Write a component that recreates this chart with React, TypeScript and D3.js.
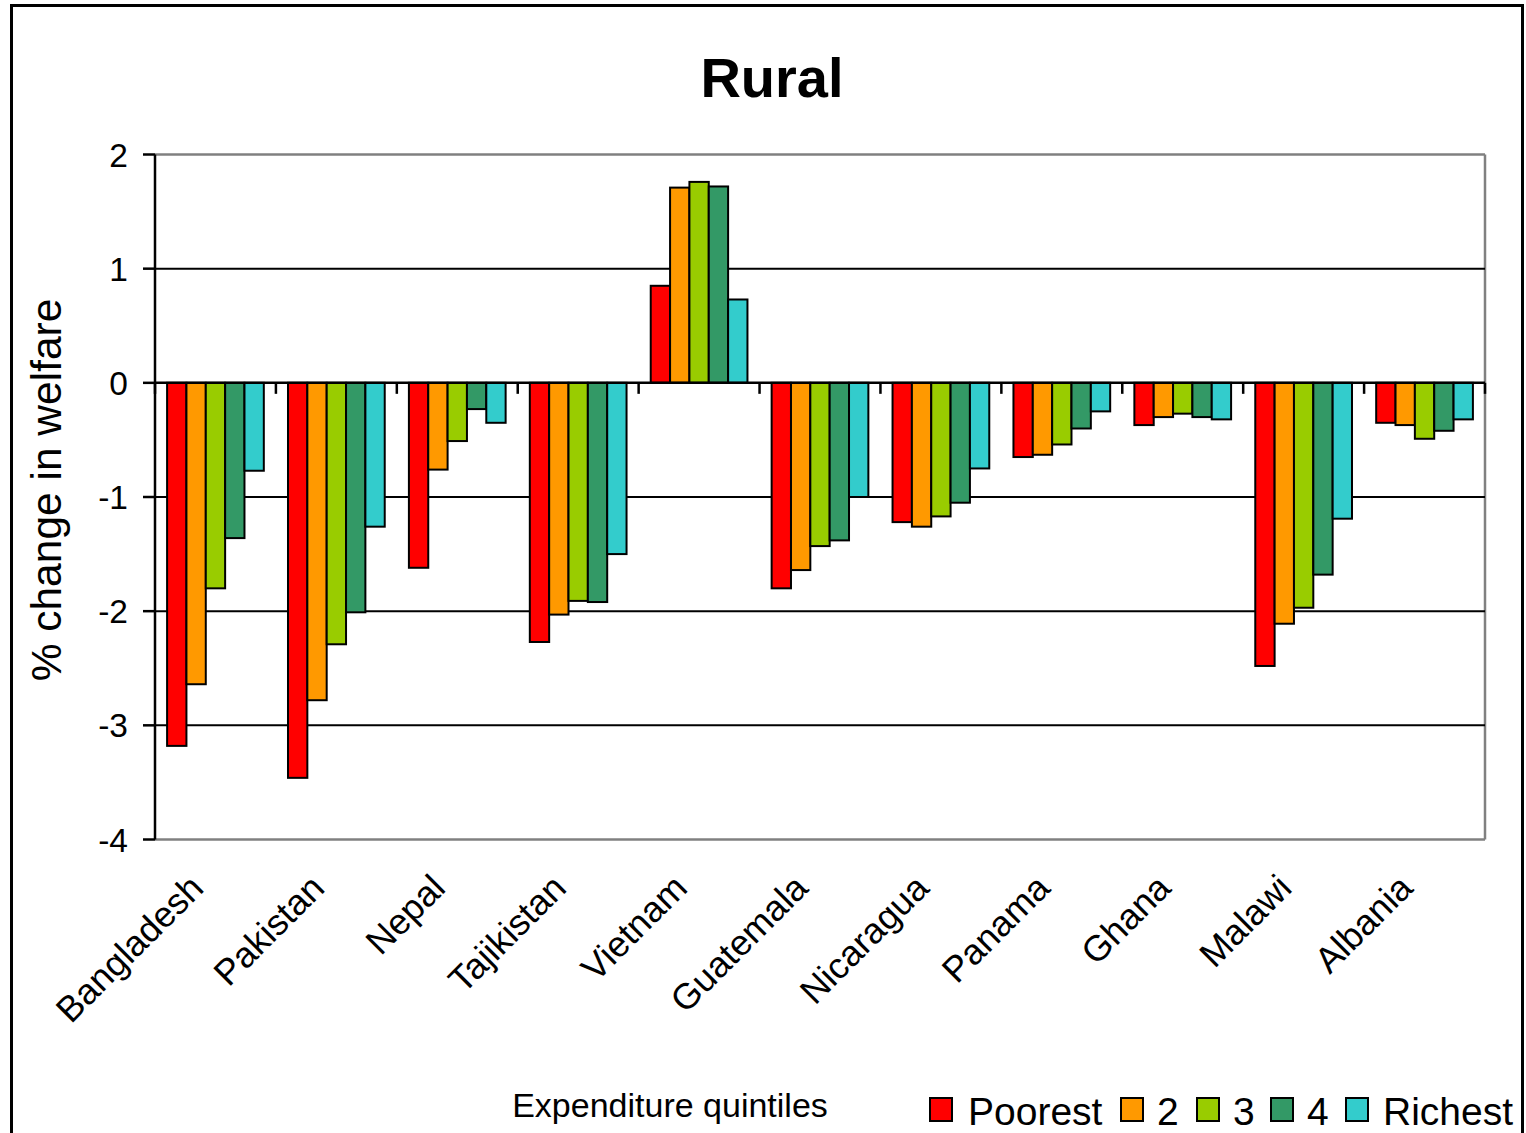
import React from "react";
import * as d3 from "d3";

const countries = ["Bangladesh", "Pakistan", "Nepal", "Tajikistan", "Vietnam", "Guatemala", "Nicaragua", "Panama", "Ghana", "Malawi", "Albania"];
const seriesNames = ["Poorest", "2", "3", "4", "Richest"];
const seriesColors = ["#FF0000", "#FF9900", "#99CC00", "#339966", "#33CCCC"];

const poorest = [-3.18, -3.46, -1.62, -2.27, 0.85, -1.80, -1.22, -0.65, -0.37, -2.48, -0.35];
const q2 = [-2.64, -2.78, -0.76, -2.03, 1.71, -1.64, -1.26, -0.63, -0.30, -2.11, -0.37];
const q3 = [-1.80, -2.29, -0.51, -1.91, 1.76, -1.43, -1.17, -0.54, -0.27, -1.97, -0.49];
const q4 = [-1.36, -2.01, -0.23, -1.92, 1.72, -1.38, -1.05, -0.40, -0.30, -1.68, -0.42];
const richest = [-0.77, -1.26, -0.35, -1.50, 0.73, -1.00, -0.75, -0.25, -0.32, -1.19, -0.32];

const yTicks = [2, 1, 0, -1, -2, -3, -4];

const W = 1526;
const H = 1133;
const FONT = "Arial, 'Liberation Sans', Helvetica, sans-serif";

export default function App() {
  const seriesValues = [poorest, q2, q3, q4, richest];
  const left = 155;
  const right = 1485;
  const top = 154.5;
  const bottom = 839.5;

  const x0 = d3.scaleBand<string>().domain(countries).range([left, right]).padding(0);
  const bw = x0.bandwidth();
  const pad = bw * 0.1;
  const x1 = d3.scaleBand<string>().domain(seriesNames).range([pad, bw - pad]).padding(0);
  const y = d3.scaleLinear().domain([-4, 2]).range([bottom, top]);

  const boundaries = d3.range(countries.length + 1).map((i) => left + i * bw);

  const legendItems = [
    { sx: 930, tx: 968 },
    { sx: 1121, tx: 1157 },
    { sx: 1197, tx: 1233 },
    { sx: 1271, tx: 1307 },
    { sx: 1346, tx: 1383 },
  ];

  return (
    <svg
      width={W}
      height={H}
      style={{ position: "absolute", left: 0, top: 0, background: "#fff" }}
      fontFamily={FONT}
    >
      <rect x={0} y={0} width={W} height={H} fill="#fff" />
      <rect x={11.5} y={5.5} width={1511} height={1150} fill="none" stroke="#000" strokeWidth={3} />

      <text x={772} y={97} textAnchor="middle" fontSize={56} fontWeight="bold" fill="#000">
        Rural
      </text>

      <line x1={left} x2={right} y1={top} y2={top} stroke="#808080" strokeWidth={2.5} />
      <line x1={right} x2={right} y1={top} y2={bottom} stroke="#808080" strokeWidth={2.5} />
      <line x1={left} x2={right} y1={bottom} y2={bottom} stroke="#808080" strokeWidth={2.5} />

      {yTicks
        .filter((t) => t !== 2 && t !== -4 && t !== 0)
        .map((t) => (
          <line key={"g" + t} x1={left} x2={right} y1={y(t)} y2={y(t)} stroke="#000" strokeWidth={2} />
        ))}

      {countries.map((c, ci) => (
        <g key={c} transform={`translate(${x0(c)},0)`}>
          {seriesNames.map((s, si) => {
            const v = seriesValues[si][ci];
            const y0 = y(0);
            const yv = y(v);
            return (
              <rect
                key={s}
                x={x1(s)}
                y={Math.min(y0, yv)}
                width={x1.bandwidth()}
                height={Math.abs(yv - y0)}
                fill={seriesColors[si]}
                stroke="#000"
                strokeWidth={2}
              />
            );
          })}
        </g>
      ))}

      <line x1={left} x2={right} y1={y(0)} y2={y(0)} stroke="#000" strokeWidth={2.5} />
      {boundaries.map((bx, i) => (
        <line key={"xt" + i} x1={bx} x2={bx} y1={y(0)} y2={y(0) + 11} stroke="#000" strokeWidth={2.5} />
      ))}

      <line x1={left} x2={left} y1={top} y2={bottom} stroke="#000" strokeWidth={2.5} />
      {yTicks.map((t) => (
        <g key={"yt" + t}>
          <line x1={left - 12} x2={left} y1={y(t)} y2={y(t)} stroke="#000" strokeWidth={2.5} />
          <text x={128} y={y(t)} dy="0.36em" textAnchor="end" fontSize={33.5} fill="#000">
            {t}
          </text>
        </g>
      ))}

      <text
        transform={`translate(61,490) rotate(-90)`}
        textAnchor="middle"
        fontSize={42.5}
        fill="#000"
      >
        % change in welfare
      </text>

      {countries.map((c) => {
        const cx = (x0(c) as number) + bw / 2;
        return (
          <text
            key={"cl" + c}
            transform={`translate(${cx - 10},890) rotate(-45)`}
            textAnchor="end"
            fontSize={36}
            fill="#000"
          >
            {c}
          </text>
        );
      })}

      <text x={670} y={1117} textAnchor="middle" fontSize={34} fill="#000">
        Expenditure quintiles
      </text>

      {seriesNames.map((s, i) => (
        <g key={"lg" + s}>
          <rect x={legendItems[i].sx} y={1098} width={22} height={23} fill={seriesColors[i]} stroke="#000" strokeWidth={2} />
          <text x={legendItems[i].tx} y={1125} fontSize={39} fill="#000">
            {s}
          </text>
        </g>
      ))}
    </svg>
  );
}
